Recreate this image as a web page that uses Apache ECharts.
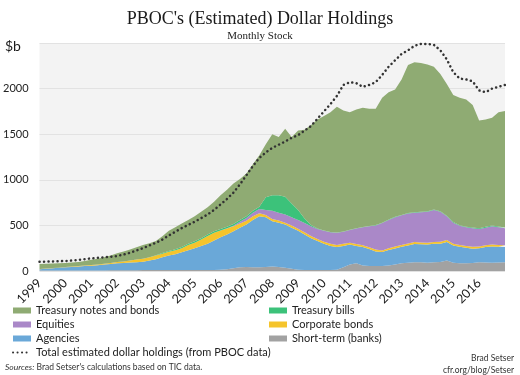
<!DOCTYPE html>
<html>
<head>
<meta charset="utf-8">
<script src="https://cdn.jsdelivr.net/npm/echarts@6/dist/echarts.min.js"></script>
<style>
  html, body { margin: 0; padding: 0; background: #fff; }
  #main { width: 520px; height: 375px; }
</style>
</head>
<body>
<div id="main"></div>
<script>
// quarterly points, 1999Q1 .. 2017Q1 (end of 2016)
var quarters = [];
for (var yr = 1999; yr <= 2016; yr++) {
    for (var q = 1; q <= 4; q++) quarters.push(yr + 'Q' + q);
}
quarters.push('2017Q1');

var yTicks = [0, 500, 1000, 1500, 2000];

// $b
var shortTerm = [5,5,5,5,5,5,5,5,6,6,6,7,8,8,8,9,10,10,10,10,10,10,10,10,10,10,12,12,15,20,30,40,45,42,40,45,50,45,35,25,15,12,10,10,10,12,15,40,70,85,60,55,55,55,60,70,85,90,95,95,90,95,100,115,90,85,85,88,95,92,90,92,95];
var agencies = [15,20,25,30,35,40,45,49,52,57,64,70,76,80,84,88,92,105,120,140,160,175,195,218,240,265,288,323,355,380,405,435,465,518,560,545,495,485,475,450,425,388,350,320,290,263,247,235,220,190,202,185,160,153,170,178,180,190,200,197,200,203,200,203,190,180,170,157,155,170,180,173,167];
var corpBonds = [2,2,2,2,3,3,4,5,7,8,10,11,14,17,23,28,33,35,40,40,40,43,45,57,60,70,85,85,75,65,55,45,40,40,32,25,25,25,20,23,22,25,25,22,20,23,23,23,20,20,21,20,20,18,20,20,20,22,23,20,20,20,20,22,20,20,20,20,20,20,20,21,21];
var equities = [0,0,0,0,0,0,0,0,0,0,0,0,0,0,0,0,0,0,0,0,0,0,0,0,0,0,0,0,0,3,5,20,30,40,48,55,90,85,90,92,98,100,105,108,120,127,135,132,140,170,197,230,265,299,310,322,325,328,322,333,340,352,330,260,230,210,205,205,190,193,200,194,187];
var tBills = [0,0,0,0,0,0,0,0,0,0,0,0,0,0,0,0,0,2,4,6,8,10,12,13,15,15,15,15,15,17,20,20,20,20,25,140,170,190,195,150,110,50,15,5,4,3,3,3,3,3,3,4,4,4,5,5,5,5,5,5,5,5,5,6,6,6,6,8,10,10,8,8,8];
var tNotes = [56,53,50,48,45,45,46,51,57,64,70,82,97,110,120,135,150,153,156,184,222,242,258,262,275,290,300,325,370,405,445,450,470,510,565,580,670,640,745,730,870,975,1095,1195,1256,1312,1377,1327,1287,1302,1307,1286,1276,1371,1395,1395,1485,1625,1645,1630,1610,1565,1505,1444,1394,1399,1394,1342,1180,1175,1182,1252,1277];
var totalPboc = [102,103,105,107,110,115,122,130,139,144,150,156,164,180,200,225,250,280,310,345,390,430,470,505,540,580,620,670,730,790,860,950,1050,1150,1240,1300,1350,1385,1420,1460,1490,1540,1590,1670,1750,1830,1920,2040,2070,2060,2020,2040,2070,2150,2240,2310,2380,2420,2470,2490,2490,2480,2420,2320,2180,2110,2100,2080,1980,1960,2000,2020,2040];

var colors = {
    notes: '#8fab73',
    bills: '#3cc27a',
    equities: '#aa88c8',
    corp: '#f5c42c',
    agencies: '#6aa8d8',
    shortTerm: '#a2a2a2',
    total: '#333333'
};

var sansFont = 'Lato, "Open Sans", sans-serif';
var serifFont = '"Liberation Serif", "DejaVu Serif", serif';

function areaSeries(name, data, color) {
    return {
        name: name,
        type: 'line',
        stack: 'holdings',
        data: data,
        symbol: 'none',
        smooth: false,
        lineStyle: { width: 0 },
        itemStyle: { color: color },
        areaStyle: { color: color, opacity: 1 },
        emphasis: { disabled: true }
    };
}

var legendText = { fontFamily: sansFont, fontSize: 11, color: '#222', lineHeight: 11 };

var myChart = echarts.init(document.getElementById('main'), null, { renderer: 'canvas' });

var option = {
    animation: false,
    backgroundColor: '#ffffff',
    grid: {
        show: true,
        backgroundColor: '#f3f3f3',
        borderWidth: 0,
        left: 35,
        right: 15,
        top: 43,
        bottom: 104
    },
    legend: [{
        orient: 'vertical',
        left: 7,
        top: 300,
        itemWidth: 18,
        itemHeight: 6,
        itemGap: 3,
        textStyle: legendText,
        data: [
            { name: 'Treasury notes and bonds', icon: 'rect' },
            { name: 'Equities', icon: 'rect' },
            { name: 'Agencies', icon: 'rect' },
            { name: 'Total estimated dollar holdings (from PBOC data)', itemStyle: { opacity: 0 } }
        ]
    }, {
        orient: 'vertical',
        left: 264,
        top: 300,
        itemWidth: 18,
        itemHeight: 6,
        itemGap: 3,
        textStyle: legendText,
        data: [
            { name: 'Treasury bills', icon: 'rect' },
            { name: 'Corporate bonds', icon: 'rect' },
            { name: 'Short-term (banks)', icon: 'rect' }
        ]
    }],
    xAxis: {
        type: 'category',
        boundaryGap: false,
        data: quarters,
        axisLine: { show: false },
        axisTick: { show: false },
        splitLine: { show: false },
        axisLabel: {
            rotate: 45,
            margin: 10,
            fontFamily: sansFont,
            fontSize: 12.5,
            color: '#1a1a1a',
            interval: function (index) { return index % 4 === 0 && index < 72; },
            formatter: function (value) { return value.slice(0, 4); }
        }
    },
    yAxis: {
        type: 'value',
        min: 0,
        max: 2500,
        interval: 500,
        axisLine: { show: false },
        axisTick: { show: false },
        splitLine: { lineStyle: { color: '#e2e2e2', width: 1 } },
        axisLabel: {
            margin: 11,
            fontFamily: sansFont,
            fontSize: 11,
            color: '#222',
            formatter: function (v) { return yTicks.indexOf(v) >= 0 ? String(v) : ''; }
        }
    },
    series: [
        areaSeries('Short-term (banks)', shortTerm, colors.shortTerm),
        areaSeries('Agencies', agencies, colors.agencies),
        areaSeries('Corporate bonds', corpBonds, colors.corp),
        areaSeries('Equities', equities, colors.equities),
        areaSeries('Treasury bills', tBills, colors.bills),
        areaSeries('Treasury notes and bonds', tNotes, colors.notes),
        {
            name: 'Total estimated dollar holdings (from PBOC data)',
            type: 'line',
            data: totalPboc,
            symbol: 'none',
            z: 5,
            itemStyle: { color: colors.total },
            lineStyle: { color: colors.total, width: 2.5, type: [0.1, 4.4], cap: 'round' }
        }
    ],
    graphic: [
        { type: 'text', style: { text: "PBOC's (Estimated) Dollar Holdings", x: 260, y: 19, textAlign: 'center', textVerticalAlign: 'middle', font: '18px ' + serifFont, fill: '#1a1a1a' } },
        { type: 'text', style: { text: 'Monthly Stock', x: 260, y: 36, textAlign: 'center', textVerticalAlign: 'middle', font: '11px ' + serifFont, fill: '#1a1a1a' } },
        { type: 'text', style: { text: '$b', x: 5, y: 46, textAlign: 'left', textVerticalAlign: 'middle', font: '14px ' + sansFont, fill: '#1a1a1a' } },
        { type: 'text', style: { text: '{i|Sources:} Brad Setser\'s calculations based on TIC data.', x: 5, y: 367, textAlign: 'left', textVerticalAlign: 'middle', font: '8.5px ' + sansFont, fill: '#333', rich: { i: { fontStyle: 'italic', fontSize: 8.5, fontFamily: sansFont, fill: '#333' } } } },
        { type: 'text', style: { text: 'Brad Setser', x: 514, y: 358, textAlign: 'right', textVerticalAlign: 'middle', font: '8.5px ' + sansFont, fill: '#333' } },
        { type: 'text', style: { text: 'cfr.org/blog/Setser', x: 514, y: 370, textAlign: 'right', textVerticalAlign: 'middle', font: '8.5px ' + sansFont, fill: '#333' } }
    ]
};

myChart.setOption(option);
</script>
</body>
</html>
